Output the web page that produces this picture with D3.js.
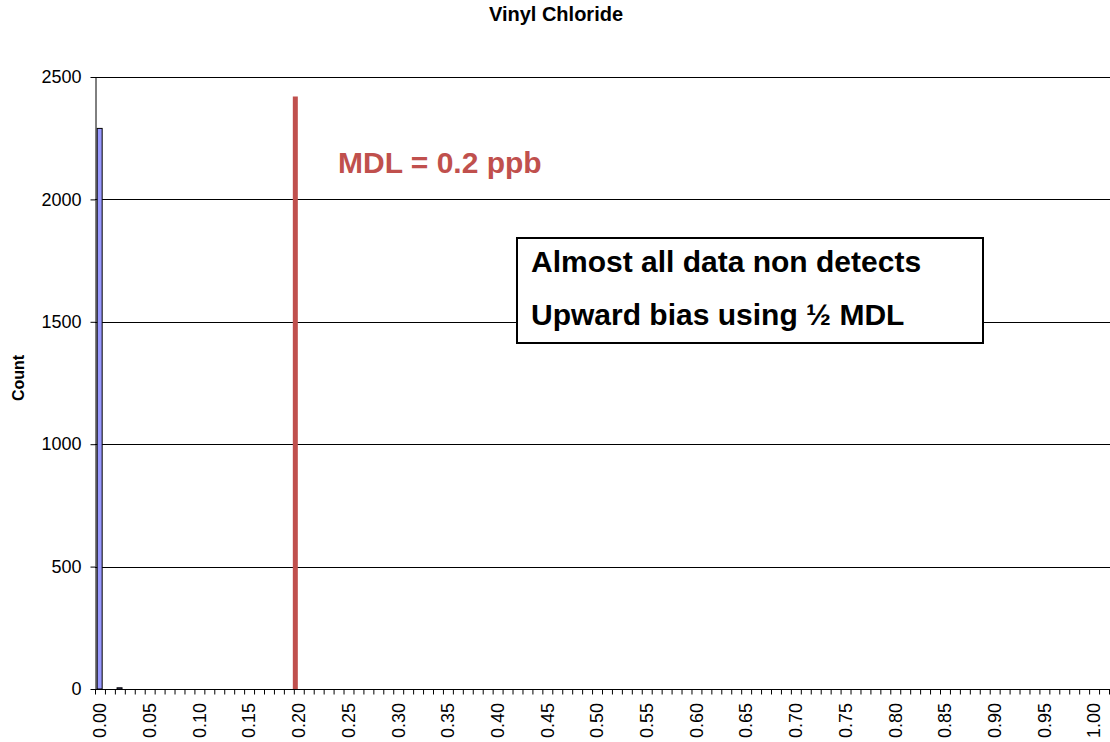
<!DOCTYPE html>
<html>
<head>
<meta charset="utf-8">
<script src="https://cdn.jsdelivr.net/npm/d3@7"></script>
<style>
  body { margin: 0; background: #fff; }
  svg { display: block; font-family: "Liberation Sans", Arial, sans-serif; }
</style>
</head>
<body>
<div id="chart"></div>
<script>
// histogram bins 0.00 .. 1.00 plus one unlabelled overflow bin
var binLabels = d3.range(0, 102).map(i => i <= 100 ? (i / 100).toFixed(2) : "More");
var binCounts = binLabels.map(() => 0);
binCounts[0] = 2290;   // 0.00
binCounts[2] = 5;      // 0.02
var yTicks = [0, 500, 1000, 1500, 2000, 2500];
var mdlBin = "0.20";
var mdlTop = 2420;

var svgWidth = 1110, svgHeight = 742;
var margin = { top: 77, right: 1, bottom: 53, left: 95 };
var width = 1109 - margin.left;
var height = 689 - margin.top;

var svg = d3.select("#chart").append("svg")
  .attr("width", svgWidth)
  .attr("height", svgHeight);

// title
svg.append("text")
  .attr("x", 556).attr("y", 21)
  .attr("text-anchor", "middle")
  .style("font-size", "20px").style("font-weight", "bold")
  .text("Vinyl Chloride");

// y axis title
svg.append("text")
  .attr("transform", "translate(24, 378) rotate(-90)")
  .attr("text-anchor", "middle")
  .style("font-size", "16px").style("font-weight", "bold")
  .text("Count");

var chartGroup = svg.append("g")
  .attr("transform", `translate(${margin.left}, ${margin.top})`);

var xBand = d3.scaleBand()
  .domain(binLabels)
  .range([0, width]);

var xIndex = d3.scaleLinear()
  .domain([0, binLabels.length])
  .range([0, width]);

var yLinear = d3.scaleLinear()
  .domain([0, 2500])
  .range([height, 0]);

// gridlines
chartGroup.append("g")
  .selectAll("line")
  .data(yTicks.slice(1))
  .enter()
  .append("line")
  .attr("x1", 0).attr("x2", width + 2)
  .attr("y1", d => Math.round(yLinear(d)) + 0.5)
  .attr("y2", d => Math.round(yLinear(d)) + 0.5)
  .attr("stroke", "#000")
  .attr("stroke-width", 1);

// bars
chartGroup.append("g")
  .selectAll("rect")
  .data(binLabels.map((c, i) => ({ bin: c, count: binCounts[i] })).filter(d => d.count > 0))
  .enter()
  .append("rect")
  .attr("x", d => xBand(d.bin) + xBand.bandwidth() * 0.22)
  .attr("y", d => yLinear(d.count))
  .attr("width", xBand.bandwidth() * 0.5)
  .attr("height", d => Math.max(1, height - yLinear(d.count)))
  .attr("fill", "#9999ff")
  .attr("stroke", "#000")
  .attr("stroke-width", 1);

// y axis
var leftAxis = d3.axisLeft(yLinear).tickValues(yTicks).tickFormat(d3.format("d"))
  .tickSize(5).tickPadding(9).tickSizeOuter(0);
var yAxis = chartGroup.append("g")
  .attr("transform", "translate(0.5, 0)")
  .call(leftAxis);
yAxis.selectAll("text").style("font-size", "18px").style("font-family", "\"Liberation Sans\", Arial, sans-serif").attr("fill", "#000");
yAxis.selectAll("line, path").attr("stroke", "#000");

// x axis tick marks between bins
var tickAxis = d3.axisBottom(xIndex)
  .tickValues(d3.range(0, binLabels.length + 1))
  .tickSize(5).tickSizeOuter(0).tickFormat("");
var xTicks = chartGroup.append("g")
  .attr("transform", `translate(0, ${height + 0.5})`)
  .call(tickAxis);
xTicks.selectAll("line, path").attr("stroke", "#000");
xTicks.select(".domain").attr("d", `M0,0H${width + 2}`);

// x axis labels every 5th bin
var labelAxis = d3.axisBottom(xBand)
  .tickValues(binLabels.filter((c, i) => i % 5 === 0 && i <= 100))
  .tickSize(0);
var xLabels = chartGroup.append("g")
  .attr("transform", `translate(0, ${height})`)
  .call(labelAxis);
xLabels.select(".domain").remove();
xLabels.selectAll("text")
  .attr("transform", "rotate(-90)")
  .attr("text-anchor", "end")
  .attr("x", -14).attr("y", 0).attr("dy", "0.35em")
  .style("font-size", "18px")
  .style("font-family", "\"Liberation Sans\", Arial, sans-serif")
  .attr("fill", "#000");

// MDL marker
chartGroup.append("line")
  .attr("x1", xBand(mdlBin) + 1.5).attr("x2", xBand(mdlBin) + 1.5)
  .attr("y1", yLinear(mdlTop)).attr("y2", yLinear(0))
  .attr("stroke", "#c0504d")
  .attr("stroke-width", 5);

svg.append("text")
  .attr("x", 338).attr("y", 173)
  .attr("fill", "#c0504d")
  .style("font-size", "30px").style("font-weight", "bold")
  .text("MDL = 0.2 ppb");

// annotation box
svg.append("rect")
  .attr("x", 517).attr("y", 238)
  .attr("width", 466).attr("height", 105)
  .attr("fill", "#fff")
  .attr("stroke", "#000")
  .attr("stroke-width", 2);

svg.append("text")
  .attr("x", 531).attr("y", 272)
  .style("font-size", "30px").style("font-weight", "bold")
  .text("Almost all data non detects");

svg.append("text")
  .attr("x", 531).attr("y", 325)
  .style("font-size", "30px").style("font-weight", "bold")
  .text("Upward bias using ½ MDL");
</script>
</body>
</html>
